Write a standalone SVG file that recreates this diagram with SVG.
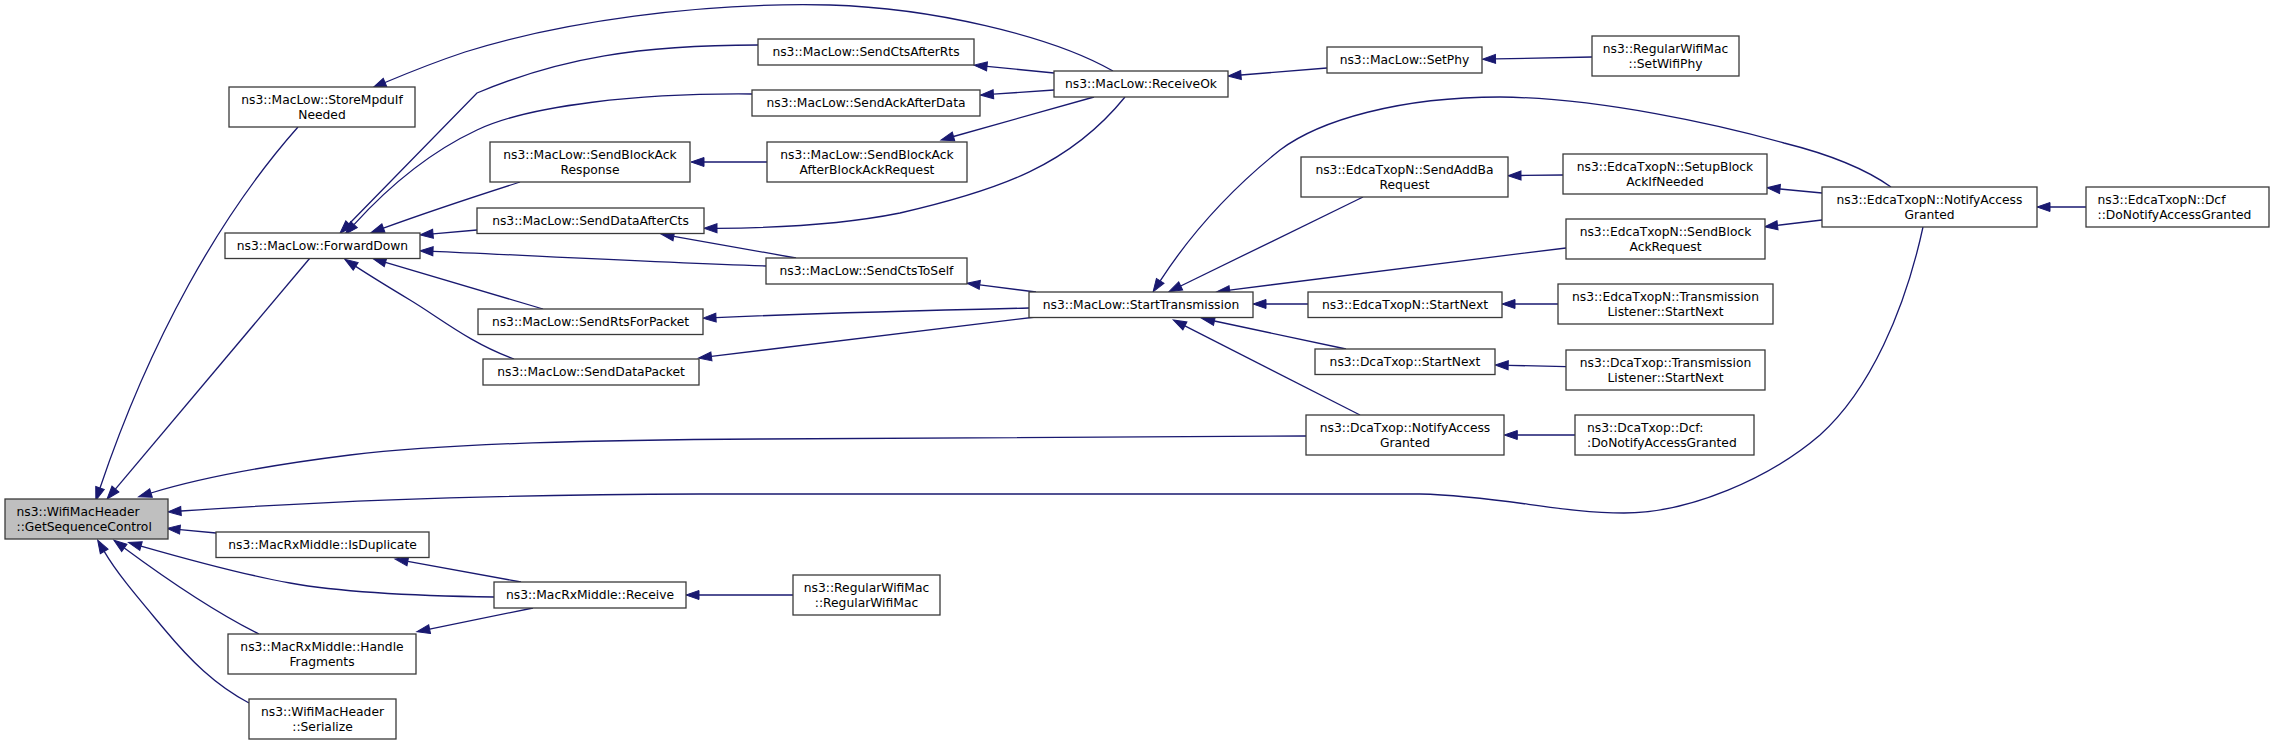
<svg xmlns="http://www.w3.org/2000/svg" width="2275" height="745" viewBox="0 0 2275 745">
<defs>
<marker id="ah" markerUnits="userSpaceOnUse" markerWidth="14" markerHeight="10" refX="0" refY="5" orient="auto" overflow="visible">
<path d="M0,0.5 L13,5 L0,9.5 Z" fill="#191970" stroke="#191970" stroke-width="1"/>
</marker>
<style>
.node rect{fill:#ffffff;stroke:#3a3a3a;stroke-width:1.3}
.node.hl rect{fill:#bfbfbf}
.node text{font-family:"DejaVu Sans","Liberation Sans",sans-serif;font-size:12.3px;fill:#000000;text-anchor:middle}
.node text.l{text-anchor:start}
.edges path{fill:none;stroke:#191970;stroke-width:1.3;marker-end:url(#ah)}
</style>
</defs>
<rect x="0" y="0" width="2275" height="745" fill="#ffffff"/>
<g id="edges" class="edges">
<path d="M298,127 C220,215 150,340 100,488"/>
<path d="M310,258 L115.4,489.1"/>
<path d="M1113,71 C1050,35 930,8 830,5 C700,2 560,22 465,52 C435,62 410,72 385,82.5"/>
<path d="M758,45 C640,45 560,58 477,93 L349,224"/>
<path d="M752,94 C640,93 530,105 477,130 C430,152 390,185 354,224.6"/>
<path d="M520,182 C470,198 425,213 383.4,228.1"/>
<path d="M477,230 L433,233.8"/>
<path d="M766,266 C650,262 520,255 433,251.3"/>
<path d="M543,309 L385.5,262.4"/>
<path d="M514,359 C470,343 440,318 410,300 C390,288 372,277 355.7,266.4"/>
<path d="M1054,73 L987,66.4"/>
<path d="M1054,90 L993.4,94.2"/>
<path d="M1094,97 L953.5,136.5"/>
<path d="M1125,97 C1070,165 1000,190 900,213 C840,225 780,228 717,228.3"/>
<path d="M767,162 L704,162"/>
<path d="M796,258 L673.8,236.3"/>
<path d="M1036,292 L979.8,284.9"/>
<path d="M1029,308 C900,311 800,314 716,317.6"/>
<path d="M1036,317 L711.4,356.4"/>
<path d="M1891,187 C1860,165 1820,152 1784,143 C1720,125 1600,98 1500,97 C1400,97 1320,120 1280,150 C1230,190 1190,235 1160.2,280.9"/>
<path d="M1363,197 L1180.7,286"/>
<path d="M1566,248 C1450,262 1330,277 1229.6,290.1"/>
<path d="M1308,304 L1266,304"/>
<path d="M1346,349 L1214.4,321"/>
<path d="M1360,415 L1184.9,325.9"/>
<path d="M1327,68 L1241,75"/>
<path d="M1592,57 L1495.5,58.9"/>
<path d="M1563,175 L1521,175.5"/>
<path d="M1822,193 L1780,189"/>
<path d="M1822,220 L1777.5,225.3"/>
<path d="M2086,207 L2050,207"/>
<path d="M1558,304 L1515,304"/>
<path d="M1566,366.7 L1508.2,365.3"/>
<path d="M1575,435 L1517.3,435"/>
<path d="M1306,436 L760,439 C600,440 450,443 350,455 C270,465 200,478 151,493"/>
<path d="M1923,227 C1905,310 1870,390 1820,435 C1770,478 1690,513 1624,513 C1560,513 1500,496 1420,494 L700,494 C450,495 300,503 181,511"/>
<path d="M216,533 L180,529.6"/>
<path d="M494,597 C420,596 340,592 290,583 C240,574 190,560 141,546"/>
<path d="M521,582 L407.8,561.4"/>
<path d="M259,634 C215,612 165,578 124.3,547.9"/>
<path d="M533,608 L429.6,629.1"/>
<path d="M249,703 C215,685 190,660 165,630 C140,600 118,575 104.2,551.4"/>
<path d="M793,595 L699,595"/>
</g>
<g id="n_gsc" class="node hl"><rect x="5" y="499" width="163" height="40"/><text class="l" x="16.5" y="516">ns3::WifiMacHeader</text><text class="l" x="16.5" y="530.7">::GetSequenceControl</text></g>
<g id="n_storempdu" class="node"><rect x="229" y="87" width="186" height="40"/><text x="322" y="104">ns3::MacLow::StoreMpduIf</text><text x="322" y="118.7">Needed</text></g>
<g id="n_forwarddown" class="node"><rect x="225" y="233" width="195" height="25.5"/><text x="322.5" y="250">ns3::MacLow::ForwardDown</text></g>
<g id="n_sendctsafterrts" class="node"><rect x="758" y="39" width="216" height="26"/><text x="866" y="56.4">ns3::MacLow::SendCtsAfterRts</text></g>
<g id="n_sendackafterdata" class="node"><rect x="752" y="90" width="228" height="26"/><text x="866" y="107.4">ns3::MacLow::SendAckAfterData</text></g>
<g id="n_sendblockackresponse" class="node"><rect x="490" y="142" width="200" height="40"/><text x="590" y="159">ns3::MacLow::SendBlockAck</text><text x="590" y="173.7">Response</text></g>
<g id="n_sendblockackafter" class="node"><rect x="767" y="142" width="200" height="40"/><text x="867" y="159">ns3::MacLow::SendBlockAck</text><text x="867" y="173.7">AfterBlockAckRequest</text></g>
<g id="n_senddataaftercts" class="node"><rect x="477" y="208" width="227" height="25.5"/><text x="590.5" y="225">ns3::MacLow::SendDataAfterCts</text></g>
<g id="n_sendctstoself" class="node"><rect x="766" y="258" width="201" height="26"/><text x="866.5" y="275.4">ns3::MacLow::SendCtsToSelf</text></g>
<g id="n_sendrtsforpacket" class="node"><rect x="478" y="309" width="225" height="25.5"/><text x="590.5" y="326">ns3::MacLow::SendRtsForPacket</text></g>
<g id="n_senddatapacket" class="node"><rect x="483" y="359" width="216" height="26"/><text x="591" y="376.4">ns3::MacLow::SendDataPacket</text></g>
<g id="n_receiveok" class="node"><rect x="1054" y="71" width="174" height="26"/><text x="1141" y="88.4">ns3::MacLow::ReceiveOk</text></g>
<g id="n_setphy" class="node"><rect x="1327" y="47" width="155" height="26"/><text x="1404.5" y="64.4">ns3::MacLow::SetPhy</text></g>
<g id="n_setwifiphy" class="node"><rect x="1592" y="36" width="147" height="40"/><text x="1665.5" y="53">ns3::RegularWifiMac</text><text x="1665.5" y="67.7">::SetWifiPhy</text></g>
<g id="n_starttransmission" class="node"><rect x="1029" y="292" width="224" height="25.5"/><text x="1141" y="309">ns3::MacLow::StartTransmission</text></g>
<g id="n_sendaddba" class="node"><rect x="1301" y="157" width="207" height="40"/><text x="1404.5" y="174">ns3::EdcaTxopN::SendAddBa</text><text x="1404.5" y="188.7">Request</text></g>
<g id="n_setupblockack" class="node"><rect x="1563" y="154" width="204" height="40"/><text x="1665" y="171">ns3::EdcaTxopN::SetupBlock</text><text x="1665" y="185.7">AckIfNeeded</text></g>
<g id="n_sendblockackrequest" class="node"><rect x="1566" y="219" width="199" height="40"/><text x="1665.5" y="236">ns3::EdcaTxopN::SendBlock</text><text x="1665.5" y="250.7">AckRequest</text></g>
<g id="n_edcastartnext" class="node"><rect x="1308" y="292" width="194" height="25.5"/><text x="1405" y="309">ns3::EdcaTxopN::StartNext</text></g>
<g id="n_edcatlstartnext" class="node"><rect x="1558" y="284" width="215" height="40"/><text x="1665.5" y="301">ns3::EdcaTxopN::Transmission</text><text x="1665.5" y="315.7">Listener::StartNext</text></g>
<g id="n_dcastartnext" class="node"><rect x="1315" y="349" width="180" height="25.5"/><text x="1405" y="366">ns3::DcaTxop::StartNext</text></g>
<g id="n_dcatlstartnext" class="node"><rect x="1566" y="350" width="199" height="40"/><text x="1665.5" y="367">ns3::DcaTxop::Transmission</text><text x="1665.5" y="381.7">Listener::StartNext</text></g>
<g id="n_dcanotify" class="node"><rect x="1306" y="415" width="198" height="40"/><text x="1405" y="432">ns3::DcaTxop::NotifyAccess</text><text x="1405" y="446.7">Granted</text></g>
<g id="n_dcadcf" class="node"><rect x="1575" y="415" width="179" height="40"/><text class="l" x="1587" y="432">ns3::DcaTxop::Dcf:</text><text class="l" x="1587" y="446.7">:DoNotifyAccessGranted</text></g>
<g id="n_edcanotify" class="node"><rect x="1822" y="187" width="215" height="40"/><text x="1929.5" y="204">ns3::EdcaTxopN::NotifyAccess</text><text x="1929.5" y="218.7">Granted</text></g>
<g id="n_edcadcf" class="node"><rect x="2086" y="187" width="183" height="40"/><text class="l" x="2097.5" y="204">ns3::EdcaTxopN::Dcf</text><text class="l" x="2097.5" y="218.7">::DoNotifyAccessGranted</text></g>
<g id="n_isduplicate" class="node"><rect x="216" y="532" width="213" height="25.5"/><text x="322.5" y="549">ns3::MacRxMiddle::IsDuplicate</text></g>
<g id="n_receive" class="node"><rect x="494" y="582" width="192" height="26"/><text x="590" y="599.4">ns3::MacRxMiddle::Receive</text></g>
<g id="n_handlefragments" class="node"><rect x="228" y="634" width="188" height="40"/><text x="322" y="651">ns3::MacRxMiddle::Handle</text><text x="322" y="665.7">Fragments</text></g>
<g id="n_serialize" class="node"><rect x="249" y="699" width="147" height="40"/><text x="322.5" y="716">ns3::WifiMacHeader</text><text x="322.5" y="730.7">::Serialize</text></g>
<g id="n_regularwifimac" class="node"><rect x="793" y="575" width="147" height="40"/><text x="866.5" y="592">ns3::RegularWifiMac</text><text x="866.5" y="606.7">::RegularWifiMac</text></g>
</svg>
